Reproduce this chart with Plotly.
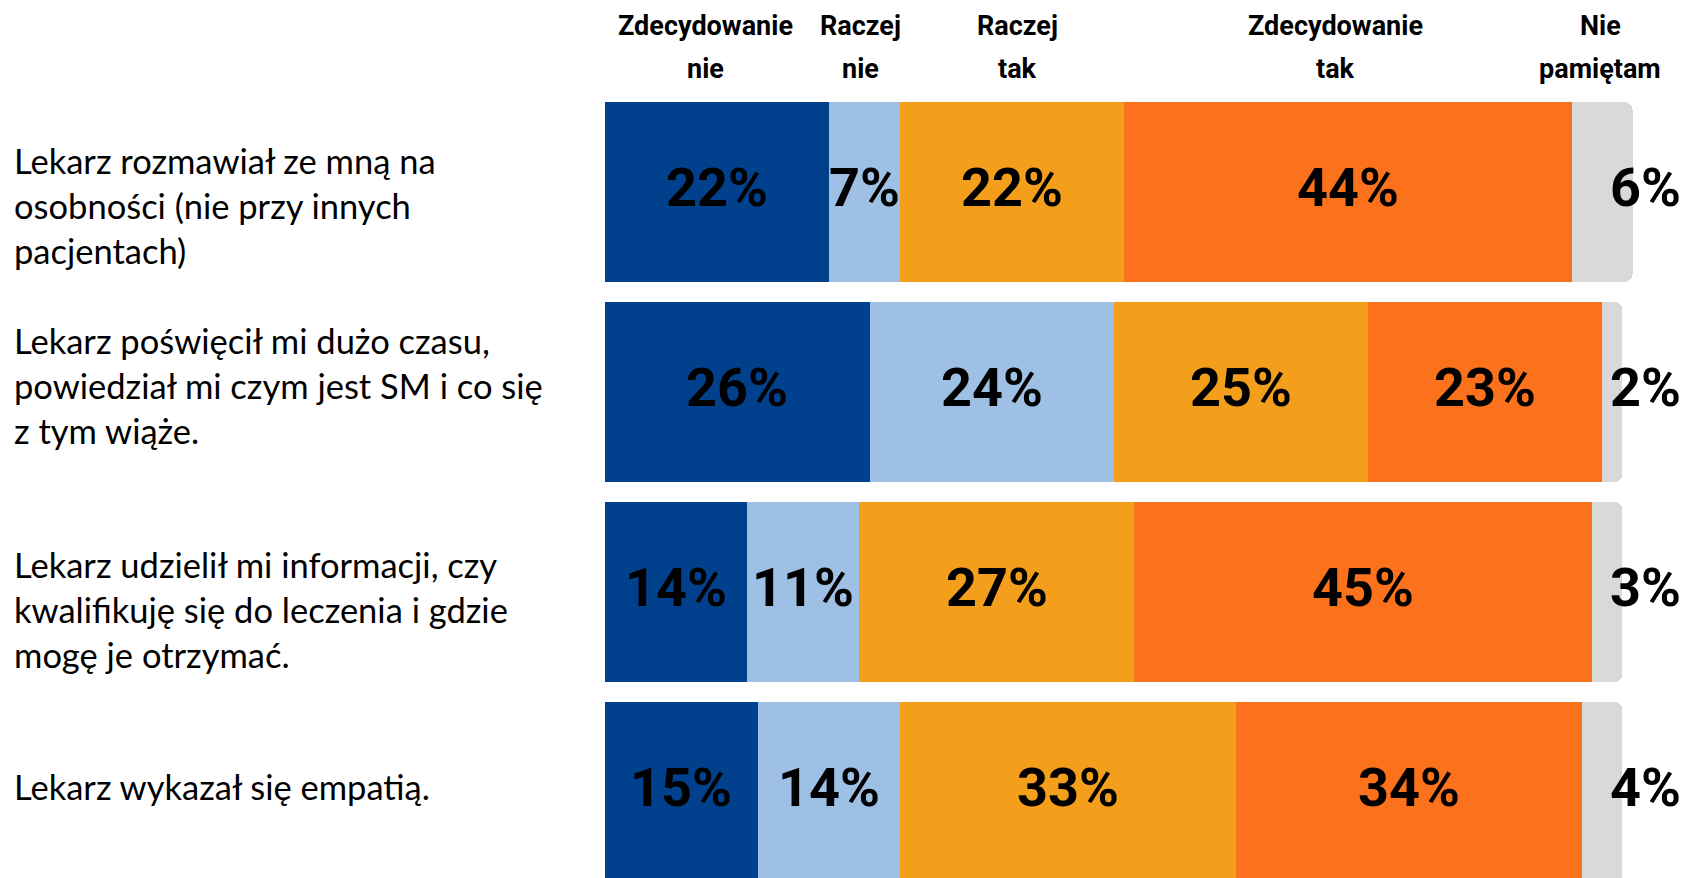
import plotly.graph_objects as go

# ---- data ----
statements = [
    "Lekarz rozmawiał ze mną na<br>osobności (nie przy innych<br>pacjentach)",
    "Lekarz poświęcił mi dużo czasu,<br>powiedział mi czym jest SM i co się<br>z tym wiąże.",
    "Lekarz udzielił mi informacji, czy<br>kwalifikuję się do leczenia i gdzie<br>mogę je otrzymać.",
    "Lekarz wykazał się empatią.",
]
header_line1 = ["Zdecydowanie", "Raczej", "Raczej", "Zdecydowanie", "Nie"]
header_line2 = ["nie", "nie", "tak", "tak", "pamiętam"]

zdecydowanie_nie = [22, 26, 14, 15]
raczej_nie = [7, 24, 11, 14]
raczej_tak = [22, 25, 27, 33]
zdecydowanie_tak = [44, 23, 45, 34]
nie_pamietam = [6, 2, 3, 4]

series = [zdecydowanie_nie, raczej_nie, raczej_tak, zdecydowanie_tak, nie_pamietam]
colors = ["#00408C", "#9DC0E4", "#F39F1B", "#FC711C", "#D9D9D9"]

# layout-only placement constants
caption_yshift = [-13, 7, -17, 6]
header_x = [9.9, 25.1, 40.5, 71.8, 97.8]   # header centres on the x axis

W, H = 1687, 878
fig = go.Figure()
rows = list(range(len(statements)))
for vals, col, name in zip(series, colors, header_line1):
    fig.add_trace(go.Bar(
        y=rows, x=vals, orientation="h", marker=dict(color=col, line=dict(width=0)),
        width=0.9, name=name, showlegend=False, hoverinfo="skip"))

annotations = []
label_font = dict(family="Roboto", size=54, color="black", weight=700)
for i in rows:
    cum = 0
    for k, vals in enumerate(series):
        v = vals[i]
        if k < len(series) - 1:
            annotations.append(dict(x=cum + v / 2, y=i, xref="x", yref="y", text=f"{v}%",
                                    showarrow=False, font=label_font, xanchor="center", yanchor="middle",
                                    yshift=5))
        else:
            annotations.append(dict(x=106.0, y=i, xref="x", yref="y", text=f"{v}%",
                                    showarrow=False, font=label_font, xanchor="right", yanchor="middle",
                                    yshift=5))
        cum += v
    annotations.append(dict(x=(12 - 605) / 1082, y=i, xref="paper", yref="y", text=statements[i],
                            showarrow=False, xanchor="left", yanchor="middle", align="left",
                            yshift=caption_yshift[i],
                            font=dict(family="Lato, Open Sans", size=34.5, color="black")))

hfont = dict(family="Roboto", size=27, color="black", weight=700)
for k in range(len(series)):
    annotations.append(dict(x=header_x[k], y=-0.83, xref="x", yref="y", text=header_line1[k],
                            showarrow=False, font=hfont, xanchor="center", yanchor="middle"))
    annotations.append(dict(x=header_x[k], y=-0.615, xref="x", yref="y", text=header_line2[k],
                            showarrow=False, font=hfont, xanchor="center", yanchor="middle"))

fig.update_layout(
    width=W, height=H, barmode="stack", barcornerradius=8,
    margin=dict(l=605, r=0, t=0, b=0),
    plot_bgcolor="white", paper_bgcolor="white",
    xaxis=dict(range=[0, 106.35], visible=False, fixedrange=True),
    yaxis=dict(range=[3.43, -0.96], visible=False, fixedrange=True),
    annotations=annotations,
)
fig.write_html("out.html", config={"displayModeBar": False},
               post_script="document.body.style.margin='0';document.body.style.overflow='hidden';")
